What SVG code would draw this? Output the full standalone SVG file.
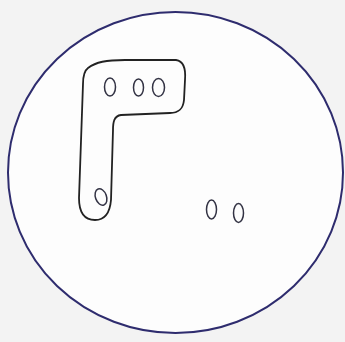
<svg xmlns="http://www.w3.org/2000/svg" width="345" height="342" viewBox="0 0 345 342">
<style>
.bg{fill:#f3f3f3}
.outer{fill:#fdfdfd;stroke:#2e2c6e;stroke-width:2}
.blob{fill:none;stroke:#222;stroke-width:1.8;stroke-linejoin:round}
.dot{fill:none;stroke:#333344;stroke-width:1.5}
</style>
<rect class="bg" x="0" y="0" width="345" height="342"/>
<g id="cell"><ellipse class="outer" cx="175.5" cy="172.5" rx="167.5" ry="160.5"/></g>
<g id="cluster">
<path class="blob" d="M 88 68 C 96 62, 106 60, 125 60 L 176 60 C 183 61, 186 68, 185 80 L 184 100 C 183 110, 178 113, 170 113 L 121 115 C 114 116, 113 122, 113 130 L 111 200 C 110 212, 105 220, 95 220 C 84 220, 79 212, 79 198 L 83 84 C 83 76, 84 71, 88 68 Z"/>
<ellipse class="dot" cx="110" cy="87" rx="5.5" ry="9"/>
<ellipse class="dot" cx="138.5" cy="87.5" rx="5" ry="8.5"/>
<ellipse class="dot" cx="158.5" cy="87.5" rx="6" ry="9"/>
<ellipse class="dot" cx="101" cy="197" rx="5.5" ry="8.5" transform="rotate(-20 101 197)"/>
</g>
<g id="pair">
<ellipse class="dot" cx="211.5" cy="209.5" rx="5" ry="9.5"/>
<ellipse class="dot" cx="238.5" cy="213" rx="5" ry="9.5"/>
</g>
</svg>
